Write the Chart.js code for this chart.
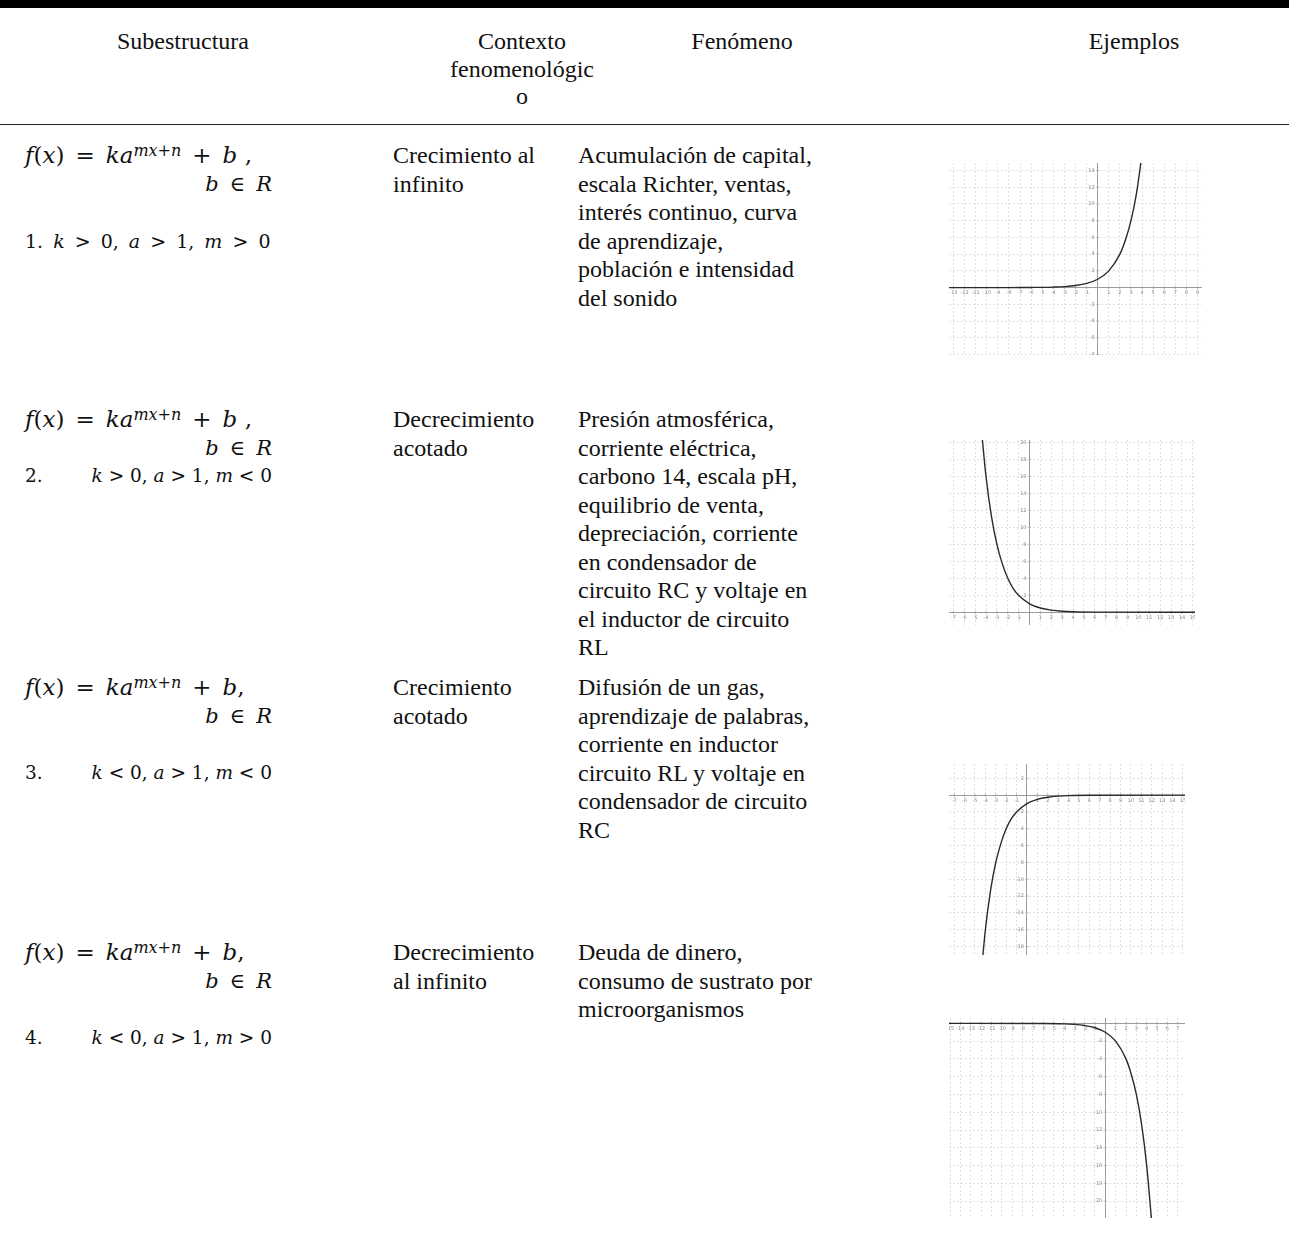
<!DOCTYPE html>
<html lang="es">
<head>
<meta charset="utf-8">
<script src="https://cdn.jsdelivr.net/npm/chart.js@4.4.1/dist/chart.umd.min.js"></script>
<style>
    html, body { margin: 0; padding: 0; background: #fff; }
    body {
        width: 1289px; height: 1249px; position: relative; overflow: hidden;
        font-family: 'Liberation Serif', serif; font-size: 24px; color: #111;
    }
    .topbar { position: absolute; left: 0; top: 0; width: 1289px; height: 8px; background: #000; }
    .rule { position: absolute; left: 0; top: 124px; width: 1289px; height: 1px; background: #222; }
    .t { position: absolute; line-height: 28.5px; white-space: nowrap; }
    .hd { text-align: center; line-height: 27.5px; }
    .m { font-family: 'DejaVu Serif', serif; font-size: 21px; width: 247px; }
    .m i { font-style: italic; }
    .m sup { font-size: 16px; position: relative; top: -0.45em; vertical-align: 0; line-height: 0; }
    .f { font-size: 23px; }
    .op { margin: 0 11px; }
    .in { margin: 0 11px; }
    .c1 { font-size: 19px; word-spacing: 4px; }
    .c2 { font-size: 18.5px; }
    .r { text-align: right; }
    .split { display: flex; justify-content: space-between; }
    .plot { position: absolute; }
</style>
</head>
<body>
<div class="topbar"></div>

<!-- Encabezados -->
<div class="t hd" style="left:83px; top:28px; width:200px">Subestructura</div>
<div class="t hd" style="left:422px; top:28px; width:200px">Contexto<br>fenomenológic<br>o</div>
<div class="t hd" style="left:642px; top:28px; width:200px">Fenómeno</div>
<div class="t hd" style="left:1034px; top:28px; width:200px">Ejemplos</div>
<div class="rule"></div>

<!-- Fila 1 -->
<div class="t m" style="left:25px; top:141px">
    <div class="f"><i>f</i>(<i>x</i>)<span class="op">=</span><i>ka</i><sup><i>mx</i>+<i>n</i></sup><span class="op">+</span><i>b</i> ,</div>
    <div class="r"><i>b</i><span class="in">∈</span><i>R</i></div>
    <div>&nbsp;</div>
    <div class="c1">1. <i>k</i> &gt; 0, <i>a</i> &gt; 1, <i>m</i> &gt; 0</div>
</div>
<div class="t" style="left:393px; top:141px">Crecimiento al<br>infinito</div>
<div class="t" style="left:578px; top:141px">Acumulación de capital,<br>escala Richter, ventas,<br>interés continuo, curva<br>de aprendizaje,<br>población e intensidad<br>del sonido</div>

<!-- Fila 2 -->
<div class="t m" style="left:25px; top:405px">
    <div class="f"><i>f</i>(<i>x</i>)<span class="op">=</span><i>ka</i><sup><i>mx</i>+<i>n</i></sup><span class="op">+</span><i>b</i> ,</div>
    <div class="r"><i>b</i><span class="in">∈</span><i>R</i></div>
    <div class="split c2"><span>2.</span><span><i>k</i> &gt; 0, <i>a</i> &gt; 1, <i>m</i> &lt; 0</span></div>
</div>
<div class="t" style="left:393px; top:405px">Decrecimiento<br>acotado</div>
<div class="t" style="left:578px; top:405px">Presión atmosférica,<br>corriente eléctrica,<br>carbono 14, escala pH,<br>equilibrio de venta,<br>depreciación, corriente<br>en condensador de<br>circuito RC y voltaje en<br>el inductor de circuito<br>RL</div>

<!-- Fila 3 -->
<div class="t m" style="left:25px; top:673px">
    <div class="f"><i>f</i>(<i>x</i>)<span class="op">=</span><i>ka</i><sup><i>mx</i>+<i>n</i></sup><span class="op">+</span><i>b</i>,</div>
    <div class="r"><i>b</i><span class="in">∈</span><i>R</i></div>
    <div>&nbsp;</div>
    <div class="split c2"><span>3.</span><span><i>k</i> &lt; 0, <i>a</i> &gt; 1, <i>m</i> &lt; 0</span></div>
</div>
<div class="t" style="left:393px; top:673px">Crecimiento<br>acotado</div>
<div class="t" style="left:578px; top:673px">Difusión de un gas,<br>aprendizaje de palabras,<br>corriente en inductor<br>circuito RL y voltaje en<br>condensador de circuito<br>RC</div>

<!-- Fila 4 -->
<div class="t m" style="left:25px; top:938px">
    <div class="f"><i>f</i>(<i>x</i>)<span class="op">=</span><i>ka</i><sup><i>mx</i>+<i>n</i></sup><span class="op">+</span><i>b</i>,</div>
    <div class="r"><i>b</i><span class="in">∈</span><i>R</i></div>
    <div>&nbsp;</div>
    <div class="split c2"><span>4.</span><span><i>k</i> &lt; 0, <i>a</i> &gt; 1, <i>m</i> &gt; 0</span></div>
</div>
<div class="t" style="left:393px; top:938px">Decrecimiento<br>al infinito</div>
<div class="t" style="left:578px; top:938px">Deuda de dinero,<br>consumo de sustrato por<br>microorganismos</div>

<!-- Ejemplos -->
<div class="plot" style="left:949px; top:163px; width:253px; height:192px"><canvas id="plot-1"></canvas></div>
<div class="plot" style="left:949px; top:440px; width:246px; height:185px"><canvas id="plot-2"></canvas></div>
<div class="plot" style="left:949px; top:764px; width:236px; height:191px"><canvas id="plot-3"></canvas></div>
<div class="plot" style="left:949px; top:1018px; width:236px; height:200px"><canvas id="plot-4"></canvas></div>

<script>
// ── Valores ────────────────────────────────────────────────

// 1. Crecimiento al infinito
const X_CREC_INF = [-13.4, -8, -6, -5, -4, -3, -2, -1, 0, 1, 2, 2.5, 3, 3.5, 4];
const Y_CREC_INF = [0, 0, 0.02, 0.03, 0.06, 0.12, 0.25, 0.5, 1, 2, 4, 5.7, 8, 11.3, 16];

// 2. Decrecimiento acotado
const X_DECR_ACOT = [-4.5, -4, -3.5, -3, -2.5, -2, -1.5, -1, 0, 1, 2, 3, 4, 6, 15.2];
const Y_DECR_ACOT = [22.6, 16, 11.3, 8, 5.7, 4, 2.8, 2, 1, 0.5, 0.25, 0.12, 0.06, 0.02, 0];

// 3. Crecimiento acotado
const X_CREC_ACOT = [-4.5, -4, -3.5, -3, -2.5, -2, -1.5, -1, 0, 1, 2, 3, 4, 6, 15.2];
const Y_CREC_ACOT = [-22.6, -16, -11.3, -8, -5.7, -4, -2.8, -2, -1, -0.5, -0.25, -0.12, -0.06, -0.02, 0];

// 4. Decrecimiento al infinito
const X_DECR_INF = [-15.1, -6, -4, -3, -2, -1, 0, 1, 2, 2.5, 3, 3.5, 4, 4.5];
const Y_DECR_INF = [0, -0.02, -0.06, -0.12, -0.25, -0.5, -1, -2, -4, -5.7, -8, -11.3, -16, -22.6];

// Rango visible de cada ventana [xmin, xmax, ymin, ymax]
const RANGE_1 = [-13.4, 9.4, -8.06, 14.9];
const RANGE_2 = [-7.4, 15.2, -1.5, 20.3];
const RANGE_3 = [-7.5, 15.2, -19.0, 3.7];
const RANGE_4 = [-15.1, 7.7, -21.9, 0.6];

// Paso entre marcas
const X_STEP = 1;
const Y_STEP = 2;

// ── Estilo tipo GeoGebra ───────────────────────────────────

const isAxis = c => c.tick && c.tick.value === 0;
const gridColor = c => isAxis(c) ? '#9c9c9c' : '#e0e0e0';
const gridDash = c => isAxis(c) ? [] : [2, 2];

// Etiquetas pequeñas sobre los ejes (no en los bordes)
const axisLabels = {
    id: 'axisLabels',
    beforeDatasetsDraw(chart) {
        const { ctx, scales: { x, y } } = chart;
        const x0 = x.getPixelForValue(0);
        const y0 = y.getPixelForValue(0);
        ctx.save();
        ctx.font = '5px "DejaVu Sans", sans-serif';
        ctx.fillStyle = '#8e8e8e';
        ctx.strokeStyle = '#a0a0a0';
        ctx.lineWidth = 0.8;

        ctx.textAlign = 'center';
        ctx.textBaseline = 'top';
        x.ticks.forEach(t => {
            if (t.value === 0) return;
            const px = x.getPixelForValue(t.value);
            ctx.beginPath();
            ctx.moveTo(px, y0 - 1.5);
            ctx.lineTo(px, y0 + 1.5);
            ctx.stroke();
            ctx.fillText(String(t.value), px, y0 + 3);
        });

        ctx.textAlign = 'right';
        ctx.textBaseline = 'middle';
        y.ticks.forEach(t => {
            if (t.value === 0) return;
            const py = y.getPixelForValue(t.value);
            ctx.beginPath();
            ctx.moveTo(x0 - 1.5, py);
            ctx.lineTo(x0 + 1.5, py);
            ctx.stroke();
            ctx.fillText(String(t.value), x0 - 3, py);
        });
        ctx.restore();
    }
};

function axisOptions(min, max, step) {
    return {
        type: 'linear',
        min, max,
        ticks: { display: false, stepSize: step, includeBounds: false },
        grid: { drawTicks: false, color: gridColor, lineWidth: 1 },
        border: { display: false, dash: gridDash }
    };
}

function makePlot(id, xs, ys, range) {
    const points = xs.map((x, i) => ({ x, y: ys[i] }));
    new Chart(document.getElementById(id), {
        type: 'scatter',
        data: {
            datasets: [{
                data: points,
                showLine: true,
                borderColor: '#2a2a2a',
                borderWidth: 1.4,
                pointRadius: 0,
                cubicInterpolationMode: 'monotone'
            }]
        },
        plugins: [axisLabels],
        options: {
            responsive: true,
            maintainAspectRatio: false,
            animation: false,
            events: [],
            layout: { padding: 0 },
            plugins: { legend: { display: false }, tooltip: { enabled: false } },
            scales: {
                x: axisOptions(range[0], range[1], X_STEP),
                y: axisOptions(range[2], range[3], Y_STEP)
            }
        }
    });
}

makePlot('plot-1', X_CREC_INF, Y_CREC_INF, RANGE_1);
makePlot('plot-2', X_DECR_ACOT, Y_DECR_ACOT, RANGE_2);
makePlot('plot-3', X_CREC_ACOT, Y_CREC_ACOT, RANGE_3);
makePlot('plot-4', X_DECR_INF, Y_DECR_INF, RANGE_4);
</script>
</body>
</html>
